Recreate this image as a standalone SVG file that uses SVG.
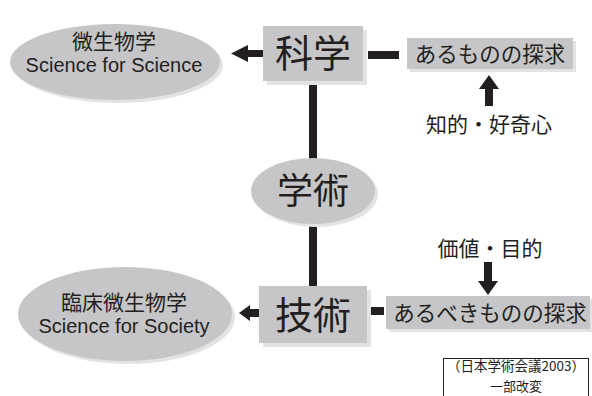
<svg xmlns="http://www.w3.org/2000/svg" width="592" height="396" viewBox="0 0 592 396">
<defs>
<style>
.jp{font-family:"Noto Sans CJK JP","Liberation Sans",sans-serif;fill:#231f20}
.en{font-family:"Liberation Sans","Noto Sans CJK JP",sans-serif;fill:#231f20}
.node{fill:#c6c6c8}
.shadow{fill:#e3e3e5}
.bar{fill:#231f20}
</style>
</defs>
<rect width="592" height="396" fill="#ffffff"/>
<g id="connectors">
<rect class="bar" x="309" y="84" width="8" height="78"/>
<rect class="bar" x="309" y="226" width="8" height="62"/>
<rect class="bar" x="248" y="50" width="15" height="7"/>
<polygon class="bar" points="231,53.5 248,45 248,62"/>
<rect class="bar" x="368" y="51" width="31" height="8"/>
<rect class="bar" x="250" y="309" width="10" height="8"/>
<polygon class="bar" points="239,313 250,305 250,321"/>
<rect class="bar" x="371" y="307" width="13" height="8"/>
<rect class="bar" x="485" y="88" width="8" height="18"/>
<polygon class="bar" points="489,75 479,89 499,89"/>
<rect class="bar" x="484" y="262" width="8" height="20"/>
<polygon class="bar" points="488,295 478,281 498,281"/>
</g>
<g id="n-microbio">
<ellipse class="shadow" cx="118" cy="65" rx="105" ry="38"/>
<ellipse class="node" cx="115" cy="62" rx="105" ry="38"/>
<text class="jp" x="114" y="49" font-size="21" text-anchor="middle">微生物学</text>
<text class="en" x="114" y="72" font-size="20" text-anchor="middle">Science for Science</text>
</g>
<g id="n-kagaku">
<rect class="shadow" x="267" y="30" width="100" height="55"/>
<rect class="node" x="263" y="26" width="100" height="55"/>
<text class="jp" x="313" y="67" font-size="38" text-anchor="middle">科学</text>
</g>
<g id="n-arumono">
<rect class="shadow" x="410" y="41" width="166" height="31"/>
<rect class="node" x="407" y="38" width="166" height="31"/>
<text class="jp" x="490" y="62" font-size="21.5" text-anchor="middle">あるものの探求</text>
</g>
<g id="n-chiteki">
<text class="jp" x="489" y="132" font-size="21" text-anchor="middle">知的・好奇心</text>
</g>
<g id="n-gakujutsu">
<ellipse class="shadow" cx="316" cy="194" rx="62" ry="33"/>
<ellipse class="node" cx="313" cy="191" rx="62" ry="33"/>
<text class="jp" x="313" y="204" font-size="36" text-anchor="middle">学術</text>
</g>
<g id="n-kachi">
<text class="jp" x="490" y="256" font-size="21" text-anchor="middle">価値・目的</text>
</g>
<g id="n-gijutsu">
<rect class="shadow" x="263" y="290" width="108" height="57"/>
<rect class="node" x="259" y="286" width="108" height="57"/>
<text class="jp" x="313" y="329" font-size="38" text-anchor="middle">技術</text>
</g>
<g id="n-rinsho">
<ellipse class="shadow" cx="128" cy="317" rx="107" ry="47"/>
<ellipse class="node" cx="125" cy="314" rx="107" ry="47"/>
<text class="jp" x="124" y="310" font-size="21" text-anchor="middle">臨床微生物学</text>
<text class="en" x="124" y="333" font-size="20" text-anchor="middle">Science for Society</text>
</g>
<g id="n-arubeki">
<rect class="shadow" x="389" y="299" width="204" height="33"/>
<rect class="node" x="386" y="296" width="204" height="33"/>
<text class="jp" x="490" y="321" font-size="21.5" text-anchor="middle">あるべきものの探求</text>
</g>
<g id="n-citation">
<rect x="443.5" y="358.5" width="145" height="50" fill="#ffffff" stroke="#231f20" stroke-width="1"/>
<text class="jp" x="516" y="371" font-size="13.5" text-anchor="middle">（日本学術会議2003）</text>
<text class="jp" x="516" y="391" font-size="13" text-anchor="middle">一部改変</text>
</g>
</svg>
